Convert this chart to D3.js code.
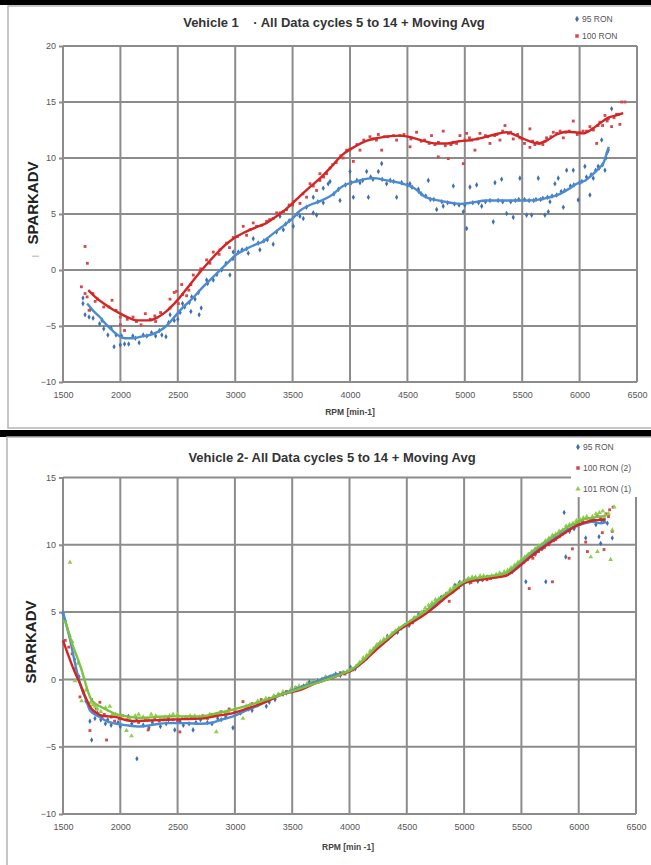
<!DOCTYPE html>
<html>
<head>
<meta charset="utf-8">
<script src="https://cdn.jsdelivr.net/npm/d3@7"></script>
<style>
  body { margin: 0; background: #fff; }
  svg { display: block; font-family: 'Liberation Sans', Arial, sans-serif; }
</style>
</head>
<body>
<svg id="chart" width="651" height="865"></svg>
<script>
const rpmTicks = [1500, 2000, 2500, 3000, 3500, 4000, 4500, 5000, 5500, 6000, 6500];
const v1Ticks = [-10, -5, 0, 5, 10, 15, 20];
const v2Ticks = [-10, -5, 0, 5, 10, 15];

// Vehicle 1 scatter, [rpm, sparkadv]
const v1Ron95 = [
  [1674,-2.5],[1674,-3.0],[1692,-4.0],[1727,-4.2],[1740,-3.5],[1762,-4.3],[1819,-4.8],[1840,-4.5],
  [1855,-5.25],[1891,-5.8],[1920,-5.2],[1945,-6.85],[1962,-5.8],[1999,-6.7],[2010,-5.9],[2036,-6.6],
  [2072,-6.6],[2108,-5.9],[2130,-6.1],[2163,-6.5],[2199,-5.8],[2230,-5.9],[2271,-5.6],[2307,-5.9],
  [2340,-5.4],[2361,-5.8],[2397,-5.95],[2420,-4.7],[2433,-4.0],[2469,-4.5],[2500,-4.4],[2520,-3.8],
  [2541,-3.0],[2560,-3.3],[2600,-2.9],[2614,-3.7],[2621,-2.4],[2650,-2.6],[2680,-2.0],[2686,-4.0],
  [2704,-3.4],[2751,-0.9],[2760,-1.2],[2809,-0.9],[2840,-0.4],[2882,0.0],[2920,0.6],[2954,-0.45],
  [2980,1.0],[2983,1.6],[3027,1.6],[3060,1.8],[3100,1.9],[3114,1.5],[3157,2.8],[3200,2.4],
  [3215,1.8],[3250,2.6],[3280,2.7],[3331,2.3],[3360,3.4],[3390,4.8],[3419,3.6],[3440,4.1],
  [3470,4.4],[3506,3.9],[3540,5.0],[3564,4.8],[3593,4.6],[3620,5.6],[3680,5.1],[3680,6.5],
  [3709,4.9],[3720,6.1],[3767,6.0],[3767,7.3],[3810,7.7],[3826,7.9],[3860,6.8],[3900,7.2],
  [3913,6.2],[3960,7.6],[4000,8.8],[4010,7.8],[4029,6.5],[4060,8.0],[4087,7.8],[4110,8.0],
  [4145,8.8],[4160,6.5],[4180,8.3],[4200,8.1],[4247,8.8],[4276,9.5],[4280,8.1],[4319,7.7],
  [4350,8.0],[4380,7.9],[4406,6.5],[4450,7.8],[4500,7.6],[4522,7.7],[4540,7.4],[4595,7.2],
  [4600,7.0],[4620,6.8],[4660,6.6],[4682,8.0],[4700,6.3],[4730,6.3],[4755,5.4],[4800,6.1],
  [4812,5.7],[4850,6.0],[4900,7.5],[4910,5.9],[4950,5.8],[4987,5.2],[5000,5.8],[5016,3.7],
  [5045,7.4],[5070,6.0],[5103,7.6],[5120,6.0],[5147,5.7],[5180,6.1],[5220,6.2],[5248,4.3],
  [5263,7.8],[5290,6.2],[5321,8.1],[5330,6.1],[5364,5.05],[5400,6.1],[5422,4.7],[5440,6.2],
  [5470,6.3],[5480,8.2],[5520,6.3],[5538,4.9],[5560,6.2],[5582,4.9],[5600,6.2],[5620,6.3],
  [5640,8.2],[5660,6.3],[5680,6.4],[5698,4.9],[5720,6.5],[5727,5.2],[5742,6.1],[5760,6.6],
  [5785,7.7],[5800,6.7],[5814,8.2],[5840,7.0],[5858,5.6],[5870,7.1],[5887,8.9],[5920,7.5],
  [5945,8.9],[5950,7.6],[5988,6.25],[6000,7.8],[6020,7.9],[6046,9.25],[6060,8.3],[6090,6.7],
  [6100,8.5],[6119,8.2],[6140,8.9],[6162,9.25],[6170,9.1],[6192,11.6],[6200,9.4],[6221,8.9],
  [6230,10.0],[6240,10.5],[6250,10.7],[6279,14.4]
];
const v1Ron100 = [
  [1660,-1.5],[1692,2.1],[1712,0.6],[1692,-2.1],[1710,-2.4],[1727,-3.6],[1760,-2.1],[1780,-2.8],
  [1800,-2.6],[1855,-3.3],[1900,-3.3],[1927,-2.7],[1962,-3.6],[1999,-4.2],[2000,-4.9],[2036,-5.4],
  [2060,-4.4],[2110,-4.2],[2140,-4.6],[2180,-4.9],[2217,-3.9],[2260,-4.4],[2300,-4.1],[2307,-4.6],
  [2350,-3.8],[2432,-3.4],[2432,-2.6],[2469,-2.0],[2490,-1.9],[2505,-3.0],[2534,-1.3],[2541,-2.2],
  [2577,-2.3],[2596,-1.8],[2614,-1.3],[2635,-0.45],[2693,-0.1],[2700,0.1],[2751,0.9],[2780,0.6],
  [2809,1.6],[2860,1.4],[2867,1.8],[2925,2.4],[2950,2.0],[2983,2.9],[3020,3.0],[3070,3.9],
  [3099,3.1],[3130,3.6],[3157,4.2],[3186,3.9],[3230,4.0],[3274,4.35],[3300,4.5],[3330,4.6],
  [3361,5.1],[3390,5.1],[3420,5.2],[3448,5.4],[3470,5.8],[3500,5.8],[3506,6.1],[3564,5.95],
  [3590,6.8],[3622,6.5],[3652,7.7],[3680,7.5],[3709,7.1],[3738,8.0],[3738,8.6],[3770,8.3],
  [3796,8.6],[3826,9.1],[3850,9.4],[3880,9.6],[3920,10.2],[3940,10.0],[3971,10.7],[4000,10.8],
  [4029,9.7],[4060,11.2],[4087,10.7],[4120,11.6],[4174,11.9],[4200,11.7],[4230,11.6],[4247,12.1],
  [4276,10.7],[4300,11.9],[4330,11.9],[4380,12.0],[4406,11.6],[4435,12.0],[4470,12.1],[4523,11.0],
  [4530,11.7],[4580,12.3],[4620,11.5],[4650,11.6],[4690,11.3],[4710,12.0],[4740,11.2],[4769,10.1],
  [4770,11.4],[4812,12.4],[4830,11.1],[4856,9.95],[4880,11.2],[4900,11.4],[4928,11.3],[4958,12.0],
  [4987,9.5],[5000,11.6],[5016,12.2],[5040,11.8],[5060,11.6],[5088,10.7],[5110,11.7],[5132,12.2],
  [5180,12.0],[5200,11.9],[5219,11.3],[5260,12.0],[5280,12.1],[5306,11.6],[5330,12.4],[5350,12.9],
  [5380,12.2],[5400,12.3],[5422,11.7],[5460,12.1],[5480,11.8],[5500,11.7],[5520,11.3],[5567,12.6],
  [5567,10.95],[5590,11.5],[5610,11.2],[5630,11.4],[5654,11.3],[5680,11.2],[5700,11.5],[5712,11.8],
  [5750,11.9],[5771,12.3],[5800,12.2],[5830,12.4],[5858,11.8],[5880,12.3],[5910,12.4],[5945,13.3],
  [5980,12.1],[6003,12.3],[6030,12.4],[6060,12.4],[6090,12.8],[6120,12.5],[6149,11.3],[6160,12.9],
  [6177,13.2],[6200,12.9],[6221,13.8],[6240,13.3],[6250,13.5],[6279,12.8],[6300,13.6],[6322,13.9],
  [6340,13.9],[6351,13.0],[6366,15.0],[6395,15.0]
];
// Vehicle 1 moving averages
const v1Ron95Avg = [
  [1710,-3.0],[1760,-3.6],[1820,-4.2],[1880,-4.9],[1930,-5.4],[1990,-5.9],[2040,-6.1],[2100,-6.1],
  [2180,-5.95],[2260,-5.8],[2330,-5.5],[2400,-5.0],[2470,-4.2],[2530,-3.5],[2580,-3.0],[2650,-2.3],
  [2720,-1.5],[2800,-0.7],[2880,0.1],[2950,0.8],[3000,1.3],[3080,1.8],[3160,2.2],[3250,2.6],
  [3300,3.0],[3400,3.8],[3500,4.6],[3564,5.3],[3650,5.8],[3750,6.2],[3830,6.6],[3940,7.5],
  [4050,7.9],[4200,8.2],[4320,8.0],[4460,7.7],[4560,7.3],[4660,6.5],[4780,6.2],[4880,6.0],
  [4960,5.9],[5050,6.0],[5190,6.2],[5350,6.2],[5540,6.2],[5700,6.4],[5830,6.8],[5900,7.2],
  [5975,7.7],[6050,8.0],[6120,8.6],[6180,9.2],[6210,9.6],[6235,10.4],[6255,11.0]
];
const v1Ron100Avg = [
  [1720,-1.8],[1780,-2.4],[1855,-3.0],[1930,-3.5],[2000,-3.9],[2080,-4.3],[2145,-4.5],[2250,-4.5],
  [2330,-4.2],[2400,-3.7],[2460,-3.1],[2505,-2.6],[2560,-1.9],[2614,-1.2],[2693,-0.2],[2760,0.6],
  [2850,1.6],[2920,2.3],[2983,2.8],[3070,3.3],[3180,3.8],[3274,4.2],[3360,4.8],[3450,5.5],
  [3503,6.0],[3564,6.6],[3650,7.4],[3740,8.2],[3826,9.1],[3936,10.3],[4040,11.0],[4136,11.5],
  [4250,11.8],[4350,11.95],[4434,12.0],[4550,11.8],[4650,11.5],[4752,11.3],[4850,11.3],[4950,11.5],
  [5017,11.55],[5150,11.8],[5260,12.1],[5365,12.3],[5450,12.0],[5540,11.6],[5641,11.3],[5720,11.6],
  [5800,12.1],[5887,12.35],[5960,12.3],[6030,12.2],[6110,12.6],[6177,13.1],[6250,13.6],[6320,13.8],
  [6380,14.0]
];

// Vehicle 2 scatter
const v2Ron95 = [
  [1500,4.9],[1560,3.2],[1600,1.5],[1640,0.2],[1670,-0.8],[1700,-1.6],[1735,-3.1],[1750,-4.5],
  [1779,-2.9],[1800,-2.5],[1830,-3.0],[1870,-3.3],[1890,-3.0],[1920,-3.4],[1980,-3.2],[2000,-3.5],
  [2070,-2.75],[2100,-3.3],[2142,-2.9],[2145,-5.9],[2200,-3.4],[2250,-3.6],[2280,-3.2],[2350,-3.5],
  [2400,-3.3],[2420,-3.0],[2475,-3.75],[2520,-3.1],[2550,-3.4],[2600,-3.3],[2635,-3.75],[2660,-3.2],
  [2700,-3.0],[2760,-3.2],[2800,-3.3],[2850,-2.9],[2880,-3.0],[2920,-2.8],[2983,-3.6],[3050,-2.5],
  [3120,-2.2],[3150,-2.3],[3200,-1.9],[3274,-2.0],[3300,-1.7],[3350,-1.5],[3420,-1.1],[3450,-1.0],
  [3500,-0.9],[3580,-0.6],[3600,-0.5],[3650,-0.2],[3720,-0.1],[3760,0.0],[3800,0.1],[3880,0.4],
  [3920,0.3],[3950,0.5],[4010,0.9],[4050,0.8],[4080,1.1],[4120,1.4],[4150,1.6],[4200,2.1],
  [4230,2.4],[4260,2.6],[4300,2.8],[4330,3.2],[4380,3.4],[4420,3.5],[4450,3.8],[4480,4.0],
  [4520,4.0],[4560,4.5],[4600,4.8],[4630,4.9],[4650,5.0],[4700,5.4],[4720,5.6],[4750,5.9],
  [4780,5.9],[4800,6.1],[4840,6.3],[4880,6.6],[4920,7.0],[4960,7.2],[4990,7.1],[5030,7.4],
  [5050,7.2],[5090,7.5],[5120,7.3],[5160,7.4],[5200,7.6],[5240,7.6],[5280,7.7],[5320,7.8],
  [5350,7.9],[5400,8.1],[5420,8.0],[5450,8.4],[5480,8.6],[5520,8.9],[5539,7.25],[5560,9.0],
  [5590,9.2],[5620,9.3],[5650,9.8],[5680,9.7],[5713,7.25],[5720,10.1],[5760,10.3],[5780,10.6],
  [5800,10.5],[5840,10.9],[5873,12.4],[5887,9.1],[5900,11.2],[5920,11.0],[5960,11.2],[5980,11.5],
  [6000,11.6],[6040,11.7],[6061,10.5],[6100,11.8],[6130,11.9],[6150,11.5],[6177,10.6],[6192,10.1],
  [6200,11.8],[6220,11.8],[6250,11.6],[6293,10.5]
];
const v2Ron100 = [
  [1520,2.9],[1550,2.4],[1580,1.9],[1610,0.8],[1648,-1.3],[1680,-1.0],[1735,-3.8],[1750,-1.5],
  [1790,-2.2],[1822,-1.7],[1840,-2.8],[1860,-2.6],[1880,-4.5],[1920,-2.8],[1950,-3.1],[1990,-2.9],
  [2020,-2.7],[2060,-3.0],[2120,-3.1],[2160,-3.2],[2220,-2.9],[2243,-3.75],[2300,-2.9],[2340,-3.1],
  [2380,-3.0],[2420,-2.9],[2460,-3.0],[2500,-3.1],[2520,-3.9],[2580,-2.8],[2620,-2.8],[2650,-2.9],
  [2720,-2.7],[2760,-2.9],[2800,-2.6],[2840,-2.7],[2880,-2.4],[2920,-2.5],[2950,-2.2],[3000,-2.4],
  [3070,-1.65],[3150,-1.8],[3230,-1.5],[3300,-1.4],[3350,-1.3],[3380,-1.1],[3450,-0.9],[3500,-0.8],
  [3530,-0.6],[3600,-0.5],[3650,-0.4],[3680,-0.2],[3760,0.0],[3800,0.1],[3840,0.2],[3920,0.5],
  [3960,0.4],[4000,0.6],[4030,0.7],[4065,1.0],[4120,1.4],[4150,1.6],[4180,1.9],[4210,2.1],
  [4240,2.4],[4270,2.6],[4300,2.9],[4330,3.0],[4360,3.2],[4400,3.5],[4420,3.6],[4450,3.8],
  [4480,4.0],[4520,4.1],[4550,4.2],[4590,4.6],[4620,4.8],[4650,5.0],[4680,5.2],[4710,5.4],
  [4740,5.5],[4770,5.8],[4800,5.9],[4830,6.2],[4870,5.8],[4890,6.5],[4900,6.5],[4950,6.8],
  [4970,7.0],[5000,7.3],[5030,7.3],[5060,7.2],[5100,7.4],[5130,7.5],[5160,7.4],[5200,7.4],
  [5230,7.5],[5270,7.6],[5300,7.7],[5340,7.8],[5370,7.9],[5400,8.0],[5430,8.2],[5460,8.4],
  [5490,8.6],[5520,8.7],[5550,8.9],[5568,6.75],[5600,9.0],[5620,9.3],[5650,9.5],[5680,9.7],
  [5700,9.8],[5740,10.0],[5771,7.25],[5780,10.3],[5800,10.4],[5830,10.6],[5860,10.8],[5880,10.9],
  [5916,9.0],[5920,11.1],[5945,9.7],[5960,11.3],[5980,11.4],[6010,11.5],[6030,11.7],[6061,10.2],
  [6076,9.5],[6080,11.7],[6110,11.9],[6140,11.8],[6160,12.2],[6190,12.0],[6206,10.9],[6221,9.65],
  [6240,12.3],[6260,12.1],[6270,12.6],[6293,11.0],[6300,12.8]
];
const v2Ron101 = [
  [1517,4.4],[1561,8.7],[1580,2.8],[1604,-0.1],[1630,1.2],[1662,-1.6],[1700,-0.8],[1740,-1.7],
  [1760,-1.9],[1780,-2.0],[1800,-2.2],[1830,-2.4],[1870,-2.1],[1909,-2.0],[1930,-2.6],[1960,-2.6],
  [2010,-2.7],[2054,-3.8],[2080,-2.9],[2098,-4.2],[2130,-2.7],[2160,-2.6],[2200,-2.8],[2240,-2.9],
  [2270,-2.6],[2310,-2.7],[2350,-2.9],[2390,-2.8],[2430,-2.7],[2460,-2.6],[2500,-2.6],[2540,-2.9],
  [2570,-2.8],[2610,-2.7],[2650,-2.7],[2690,-2.8],[2730,-2.9],[2780,-2.6],[2838,-3.9],[2870,-2.5],
  [2920,-2.6],[2940,-2.4],[3000,-2.2],[3070,-2.9],[3100,-2.0],[3130,-1.9],[3200,-1.6],[3240,-1.6],
  [3270,-1.4],[3340,-1.2],[3380,-1.1],[3420,-0.9],[3490,-0.7],[3530,-0.6],[3560,-0.5],[3630,-0.3],
  [3670,-0.2],[3710,-0.1],[3790,0.2],[3830,0.2],[3860,0.3],[3940,0.5],[3980,0.6],[4020,0.8],
  [4060,1.0],[4090,1.3],[4120,1.6],[4150,1.8],[4180,2.1],[4210,2.3],[4240,2.6],[4270,2.8],
  [4300,3.0],[4330,3.1],[4370,3.4],[4400,3.6],[4430,3.8],[4460,3.9],[4500,4.1],[4530,4.3],
  [4570,4.6],[4600,4.7],[4630,5.0],[4660,5.3],[4690,5.5],[4720,5.7],[4750,5.9],[4780,6.0],
  [4820,6.2],[4850,6.4],[4880,6.7],[4910,6.9],[4940,7.0],[4970,7.2],[5010,7.3],[5040,7.5],
  [5070,7.6],[5100,7.6],[5140,7.7],[5170,7.7],[5210,7.6],[5240,7.7],[5280,7.8],[5310,7.9],
  [5350,8.0],[5380,8.1],[5410,8.3],[5440,8.5],[5470,8.7],[5500,8.9],[5530,9.1],[5560,9.3],
  [5590,9.5],[5620,9.7],[5650,9.9],[5680,10.0],[5710,10.3],[5740,10.5],[5770,10.7],[5800,10.8],
  [5830,11.0],[5860,11.1],[5890,11.4],[5920,11.5],[5950,11.6],[5980,11.8],[6010,11.9],[6040,12.0],
  [6070,12.1],[6105,9.1],[6120,12.1],[6150,12.3],[6163,9.5],[6180,12.4],[6210,12.5],[6230,12.2],
  [6260,12.3],[6279,8.9],[6293,11.1],[6310,12.8]
];
// Vehicle 2 moving averages
const v2Ron95Avg = [
  [1500,5.0],[1560,3.0],[1610,1.0],[1648,-0.3],[1700,-1.5],[1735,-2.3],[1780,-2.6],[1822,-2.8],
  [1880,-3.1],[1938,-3.25],[2050,-3.4],[2171,-3.5],[2300,-3.35],[2403,-3.25],[2577,-3.25],[2700,-3.3],
  [2809,-3.2],[2900,-2.95],[2983,-2.75],[3100,-2.3],[3216,-1.9],[3350,-1.3],[3506,-0.8],[3650,-0.35],
  [3739,-0.05],[3850,0.3],[4000,0.6],[4100,1.2],[4232,2.3],[4335,3.0],[4435,3.7],[4560,4.4],
  [4668,5.0],[4760,5.6],[4842,6.2],[4920,6.7],[4987,7.1],[5060,7.35],[5132,7.45],[5250,7.6],
  [5365,7.8],[5440,8.2],[5510,8.7],[5580,9.2],[5655,9.7],[5740,10.2],[5829,10.7],[5900,11.1],
  [5974,11.4],[6050,11.6],[6119,11.7],[6200,11.6],[6240,11.7]
];
const v2Ron100Avg = [
  [1500,2.9],[1561,1.45],[1600,0.6],[1648,-0.3],[1700,-1.4],[1750,-2.2],[1793,-2.5],[1840,-2.7],
  [1900,-2.75],[1967,-2.8],[2040,-3.0],[2113,-3.1],[2250,-3.05],[2403,-3.0],[2550,-2.95],[2693,-2.9],
  [2850,-2.7],[2983,-2.5],[3130,-2.1],[3274,-1.65],[3420,-1.1],[3564,-0.8],[3700,-0.3],[3826,0.05],
  [3920,0.35],[4000,0.6],[4120,1.3],[4232,2.2],[4335,2.95],[4435,3.7],[4560,4.3],[4668,4.9],
  [4760,5.5],[4842,6.1],[4920,6.6],[4987,7.1],[5060,7.3],[5132,7.4],[5250,7.55],[5365,7.7],
  [5440,8.1],[5510,8.6],[5580,9.1],[5655,9.6],[5740,10.1],[5829,10.6],[5900,11.0],[5974,11.4],
  [6050,11.65],[6119,11.8],[6180,11.85],[6236,11.9]
];
const v2Ron101Avg = [
  [1517,4.4],[1560,3.2],[1590,2.4],[1630,1.5],[1662,0.7],[1700,-0.4],[1735,-1.3],[1780,-1.8],
  [1822,-2.0],[1890,-2.3],[1967,-2.6],[2060,-2.75],[2171,-2.85],[2300,-2.8],[2403,-2.75],[2550,-2.75],
  [2693,-2.75],[2850,-2.5],[2983,-2.25],[3130,-1.9],[3274,-1.5],[3420,-1.1],[3564,-0.7],[3700,-0.3],
  [3826,0.05],[3930,0.4],[4030,0.8],[4130,1.5],[4232,2.4],[4335,3.1],[4435,3.8],[4560,4.5],
  [4668,5.1],[4760,5.8],[4842,6.3],[4920,6.8],[4987,7.2],[5060,7.45],[5132,7.55],[5250,7.7],
  [5365,7.9],[5440,8.4],[5510,8.9],[5580,9.4],[5655,9.9],[5740,10.4],[5829,10.9],[5900,11.3],
  [5974,11.6],[6050,11.9],[6119,12.0],[6180,12.1],[6236,12.1]
];

const BLUE = '#3f6fb0', BLUE_LINE = '#4a8bd2';
const RED = '#d4474b', RED_LINE = '#d42424';
const GREEN = '#8fcf4f', GREEN_LINE = '#7cc241';
const GRID = '#8c8c8c';

const svg = d3.select('#chart');

// frames
svg.append('rect').attr('x', 0).attr('y', 0).attr('width', 651).attr('height', 5).attr('fill', '#000');
svg.append('rect').attr('x', 8).attr('y', 6).attr('width', 660).attr('height', 422)
  .attr('fill', '#fff').attr('stroke', '#b4b4b4').attr('stroke-width', 1.5);
svg.append('rect').attr('x', 0).attr('y', 430).attr('width', 651).attr('height', 7).attr('fill', '#000');
svg.append('rect').attr('x', 7).attr('y', 437).attr('width', 660).attr('height', 440)
  .attr('fill', '#fff').attr('stroke', '#b4b4b4').attr('stroke-width', 1.5);

function drawChart(cfg) {
  const g = svg.append('g');
  const x = d3.scaleLinear().domain([1500, 6500]).range([cfg.left, cfg.right]);
  const y = d3.scaleLinear().domain([cfg.yTicks[0], cfg.yTicks[cfg.yTicks.length - 1]])
    .range([cfg.bottom, cfg.top]);

  const grid = g.append('g').attr('stroke', GRID).attr('stroke-width', 2);
  grid.selectAll('.v').data(rpmTicks).join('line')
    .attr('x1', (d) => x(d)).attr('x2', (d) => x(d))
    .attr('y1', cfg.bottom).attr('y2', cfg.top);
  grid.selectAll('.h').data(cfg.yTicks).join('line')
    .attr('x1', cfg.left).attr('x2', cfg.right)
    .attr('y1', (d) => y(d)).attr('y2', (d) => y(d));

  const yAxis = g.append('g').attr('transform', `translate(${cfg.left},0)`)
    .call(d3.axisLeft(y).tickValues(cfg.yTicks).tickSize(4).tickPadding(3));
  const xAxis = g.append('g').attr('transform', `translate(0,${cfg.bottom})`)
    .call(d3.axisBottom(x).tickValues(rpmTicks).tickSize(0).tickPadding(10).tickFormat(d3.format('d')));
  [yAxis, xAxis].forEach((a) => {
    a.select('.domain').remove();
    a.selectAll('line').attr('stroke', GRID).attr('stroke-width', 2);
    a.selectAll('text').attr('fill', '#555').attr('font-size', 9)
      .attr('font-family', "'Liberation Sans Narrow', 'Liberation Sans', sans-serif");
  });

  // scatter
  cfg.series.forEach((s) => {
    g.append('g').selectAll('path').data(s.points).join('path')
      .attr('transform', (d) => `translate(${x(d[0])},${y(d[1])})`)
      .attr('d', d3.symbol().type(s.symbol).size(s.size))
      .attr('fill', s.color);
  });
  // moving averages
  const line = d3.line().x((d) => x(d[0])).y((d) => y(d[1])).curve(d3.curveMonotoneX);
  cfg.series.forEach((s) => {
    g.append('path').datum(s.avg).attr('fill', 'none')
      .attr('stroke', s.lineColor).attr('stroke-width', 2.4).attr('d', line);
  });

  // legend
  if (cfg.legendBg) {
    g.append('rect').attr('x', cfg.legendBg[0]).attr('y', cfg.legendBg[1])
      .attr('width', cfg.legendBg[2]).attr('height', cfg.legendBg[3]).attr('fill', '#fff');
  }
  cfg.series.forEach((s, i) => {
    const ly = cfg.legendY[i];
    g.append('path').attr('transform', `translate(${cfg.legendX},${ly})`)
      .attr('d', d3.symbol().type(s.symbol).size(12)).attr('fill', s.color);
    g.append('text').attr('x', cfg.legendX + 5).attr('y', ly).attr('dy', '0.35em')
      .attr('font-size', 8.5).attr('fill', '#555').text(s.name);
  });

  // titles
  g.append('text').attr('x', cfg.titleX).attr('y', cfg.titleY).attr('dy', '0.35em')
    .attr('text-anchor', 'middle').attr('font-size', 13).attr('font-weight', 'bold')
    .attr('fill', '#333').style('white-space', 'pre').text(cfg.title);
  g.append('text').attr('x', cfg.xTitleX).attr('y', cfg.xTitleY).attr('dy', '0.35em')
    .attr('text-anchor', 'middle').attr('font-size', 8.5).attr('font-weight', 'bold')
    .attr('fill', '#444').text(cfg.xTitle);
  g.append('text')
    .attr('transform', `translate(${cfg.yTitleX},${cfg.yTitleY}) rotate(-90)`)
    .attr('dy', '0.35em').attr('text-anchor', 'middle')
    .attr('font-size', 15).attr('font-weight', 'bold').attr('fill', '#222').text('SPARKADV');
}

drawChart({
  left: 63, right: 637, top: 46, bottom: 382,
  yTicks: v1Ticks,
  title: 'Vehicle 1    · All Data cycles 5 to 14 + Moving Avg', titleX: 334, titleY: 22,
  xTitle: 'RPM [min-1]', xTitleX: 350, xTitleY: 412,
  yTitleX: 33, yTitleY: 203,
  legendX: 577, legendY: [19, 36],
  series: [
    { name: '95 RON', points: v1Ron95, avg: v1Ron95Avg, color: BLUE, lineColor: BLUE_LINE, symbol: d3.symbolDiamond, size: 9 },
    { name: '100 RON', points: v1Ron100, avg: v1Ron100Avg, color: RED, lineColor: RED_LINE, symbol: d3.symbolSquare, size: 8 },
  ],
});

drawChart({
  left: 63, right: 636, top: 477.5, bottom: 814,
  yTicks: v2Ticks,
  title: 'Vehicle 2- All Data cycles 5 to 14 + Moving Avg', titleX: 332, titleY: 457,
  xTitle: 'RPM [min -1]', xTitleX: 348, xTitleY: 847,
  yTitleX: 31, yTitleY: 642,
  legendX: 578, legendY: [447, 468, 489],
  legendBg: [571, 439, 70, 58],
  series: [
    { name: '95 RON', points: v2Ron95, avg: v2Ron95Avg, color: BLUE, lineColor: BLUE_LINE, symbol: d3.symbolDiamond, size: 9 },
    { name: '100 RON (2)', points: v2Ron100, avg: v2Ron100Avg, color: RED, lineColor: RED_LINE, symbol: d3.symbolSquare, size: 8 },
    { name: '101 RON (1)', points: v2Ron101, avg: v2Ron101Avg, color: GREEN, lineColor: GREEN_LINE, symbol: d3.symbolTriangle, size: 10 },
  ],
});

// small stray mark beside the axis title of chart 1
svg.append('text').attr('transform', 'translate(35,256) rotate(-90)').attr('dy', '0.35em')
  .attr('text-anchor', 'middle').attr('font-size', 7).attr('fill', '#777').text('|');
</script>
</body>
</html>
